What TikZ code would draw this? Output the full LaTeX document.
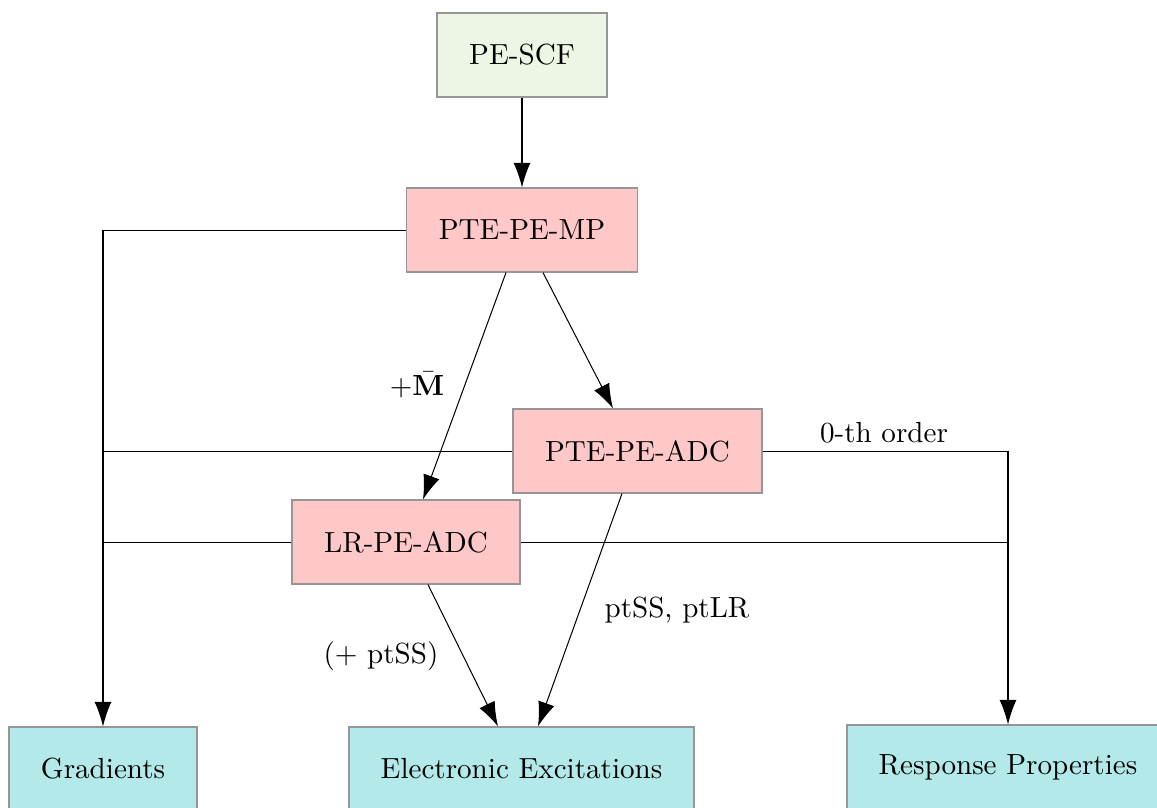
\documentclass[tikz,border=0pt]{standalone}
\usetikzlibrary{arrows.meta}
\definecolor{scfgreen}{RGB}{237,245,229}
\definecolor{mppink}{RGB}{255,200,200}
\definecolor{propcyan}{RGB}{179,233,233}
\definecolor{boxborder}{RGB}{150,150,150}
\begin{document}
\begin{tikzpicture}[x=0.3436pt,y=-0.3436pt,
  box/.style={draw=boxborder, line width=0.4pt, minimum height=84*0.3436pt, inner sep=0pt},
  greenbox/.style={box, fill=scfgreen},
  pinkbox/.style={box, fill=mppink},
  cyanbox/.style={box, fill=propcyan},
  conn/.style={draw=black, line width=0.35pt},
  arr/.style={conn, -{Latex[length=8.4pt,width=5.8pt]}},
  lbl/.style={inner sep=0pt}
]
\useasboundingbox (0,0) rectangle (1157,807);
\clip (0,0) rectangle (1157,807);

\node[greenbox, minimum width=170*0.3436pt] (scf) at (522,55) {PE-SCF};
\node[pinkbox, minimum width=231*0.3436pt] (mp) at (522,230) {PTE-PE-MP};
\node[pinkbox, minimum width=249*0.3436pt] (ptadc) at (637.5,451) {PTE-PE-ADC};
\node[pinkbox, minimum width=228*0.3436pt] (lradc) at (406,542) {LR-PE-ADC};
\node[cyanbox, minimum width=188*0.3436pt] (grad) at (103,769) {Gradients};
\node[cyanbox, minimum width=345*0.3436pt] (exc) at (521.5,769) {Electronic Excitations};
\node[cyanbox, minimum width=322*0.3436pt] (resp) at (1008,767) {Response Properties};

\coordinate (mpL) at ([xshift=-16*0.3436pt]mp.south);
\coordinate (mpR) at ([xshift=21*0.3436pt]mp.south);
\coordinate (lrT) at ([xshift=17*0.3436pt]lradc.north);
\coordinate (ptT) at ([xshift=-24.5*0.3436pt]ptadc.north);
\coordinate (ptB) at ([xshift=-15.5*0.3436pt]ptadc.south);
\coordinate (lrB) at ([xshift=22*0.3436pt]lradc.south);
\coordinate (excL) at ([xshift=-23.5*0.3436pt]exc.north);
\coordinate (excR) at ([xshift=16.5*0.3436pt]exc.north);

\draw[arr] (scf.south) -- (mp.north);
\draw[arr] (mp.west) -| (grad.north);
\draw[conn] (ptadc.west) -- (ptadc.west -| grad.north);
\draw[conn] (lradc.west) -- (lradc.west -| grad.north);
\draw[arr] (mpL) -- (lrT);
\draw[arr] (mpR) -- (ptT);
\draw[arr] (ptadc.east) -| (resp.north);
\draw[conn] (lradc.east) -- (lradc.east -| resp.north);
\draw[arr] (ptB) -- (excR);
\draw[arr] (lrB) -- (excL);

\node[lbl] (lM) at (417,385) {$+\bar{\mathbf{M}}$};
\node[lbl] (l0) at (884,433) {0-th order};
\node[lbl] (lpt) at (677,610) {ptSS, ptLR};
\node[lbl] (lss) at (381,656) {(+ ptSS)};
\end{tikzpicture}
\end{document}
